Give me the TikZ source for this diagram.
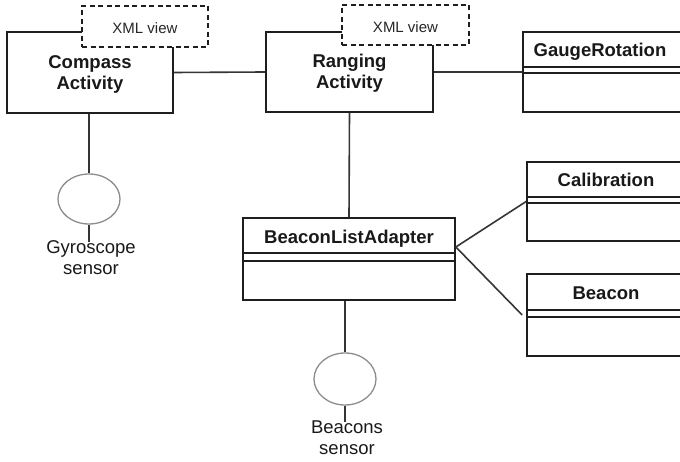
\documentclass[tikz,border=0pt]{standalone}
\usepackage{fontspec}
\setmainfont{Liberation Sans}
\usetikzlibrary{shapes.geometric}
\definecolor{ink}{HTML}{1E1E1E}
\definecolor{ring}{HTML}{8C8C8C}
\begin{document}
\begin{tikzpicture}[x=1pt,y=-1pt,
  box/.style={draw=ink, line width=1.7pt, fill=white, inner sep=0pt},
  actitle/.style={font=\bfseries\fontsize{18.5}{21.5}\selectfont, text=black!90, align=center, inner sep=0pt},
  xmlbox/.style={draw=ink, line width=1.4pt, dash pattern=on 5pt off 3.5pt, fill=white, inner sep=0pt},
  xmltext/.style={font=\fontsize{15}{18}\selectfont, text=black!85, inner sep=0pt},
  classtitle/.style={font=\bfseries\fontsize{18.5}{22}\selectfont, text=black!90, inner sep=0pt},
  sensor/.style={ellipse, draw=ring, line width=1.3pt, fill=white, inner sep=0pt},
  sensortext/.style={font=\fontsize{18.5}{21}\selectfont, text=black!90, align=center, inner sep=0pt},
  link/.style={draw=ink!90, line width=1.6pt},
  sep/.style={draw=ink, line width=1.7pt}
]
\useasboundingbox (0,0) rectangle (680,462);
\clip (0,0) rectangle (680,462);

% activities
\node[box, minimum width=166pt, minimum height=81pt] (compass) at (90,72.5) {};
\node[actitle] (compassT) at (90,74.5) {Compass\\Activity};
\node[box, minimum width=167pt, minimum height=80pt] (ranging) at (349.5,72) {};
\node[actitle] (rangingT) at (349.5,73) {Ranging\\Activity};
\node[xmlbox, minimum width=126pt, minimum height=41pt] (xmlA) at (145,26.5) {};
\node[xmltext] (xmlAT) at (145,28.5) {XML view};
\node[xmlbox, minimum width=127pt, minimum height=40pt] (xmlB) at (405.5,25) {};
\node[xmltext] (xmlBT) at (405.5,27.5) {XML view};

% classes
\node[box, minimum width=177pt, minimum height=80pt] (gauge) at (611.5,72) {};
\node[classtitle] (gaugeT) at (600,51.5) {GaugeRotation};
\draw[sep] (gauge.north west) ++(0,36) -- ++(200,0);
\draw[sep] (gauge.north west) ++(0,42) -- ++(200,0);

\node[box, minimum width=212pt, minimum height=82pt] (bla) at (349,259) {};
\node[classtitle] (blaT) at (349,238.5) {BeaconListAdapter};
\draw[sep] (bla.north west) ++(0,36) -- ++(212,0);
\draw[sep] (bla.north west) ++(0,44) -- ++(212,0);

\node[box, minimum width=173pt, minimum height=79pt] (calib) at (613.5,201.5) {};
\node[classtitle] (calibT) at (606,180) {Calibration};
\draw[sep] (calib.north west) ++(0,36) -- ++(200,0);
\draw[sep] (calib.north west) ++(0,42) -- ++(200,0);

\node[box, minimum width=173pt, minimum height=82pt] (beacon) at (613.5,315) {};
\node[classtitle] (beaconT) at (606,293.5) {Beacon};
\draw[sep] (beacon.north west) ++(0,37) -- ++(200,0);
\draw[sep] (beacon.north west) ++(0,44) -- ++(200,0);

% sensors
\node[sensor, minimum width=62pt, minimum height=50pt] (gyro) at (89,199) {};
\node[sensortext] (gyroT) at (91,258) {Gyroscope\\sensor};
\coordinate (gyroEnd) at (89,242);
\node[sensor, minimum width=62pt, minimum height=52pt] (beacons) at (345,379) {};
\node[sensortext] (beaconsT) at (347,437.5) {Beacons\\sensor};
\coordinate (beaconsEnd) at (345,422);

% connectors
\coordinate (fork) at ([yshift=12pt]bla.east);
\draw[link] (compass.east) -- (ranging.west);
\draw[link] (ranging.east) -- (gauge.west);
\draw[link] (ranging.south) -- (bla.north);
\draw[link] (gyro.north) -- (gyro.north |- compass.south);
\draw[link] (gyro.south) -- (gyroEnd);
\draw[link] (beacons.north) -- (beacons.north |- bla.south);
\draw[link] (beacons.south) -- (beaconsEnd);
\draw[link] (fork) -- (calib.west);
\draw[link] (fork) -- ([xshift=-4pt]beacon.west);
\end{tikzpicture}
\end{document}
